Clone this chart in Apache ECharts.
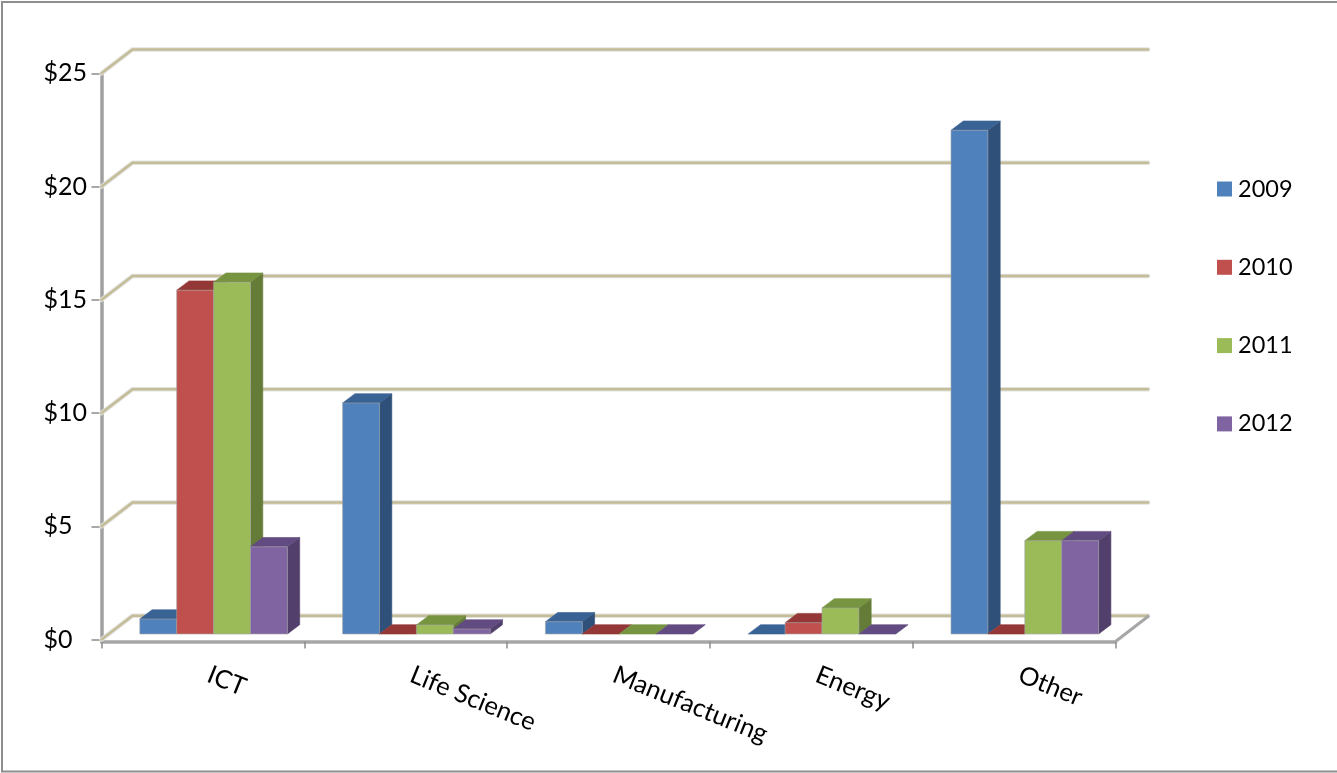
<!DOCTYPE html>
<html>
<head>
<meta charset="utf-8">
<style>html,body{margin:0;padding:0;background:#fff}#chart{width:1337px;height:773px}</style>
<script src="https://cdn.jsdelivr.net/npm/echarts@6/dist/echarts.min.js"></script>
</head>
<body>
<div id="chart"></div>
<script>
// Funding by sector, in millions of dollars
const categories = ['ICT', 'Life Science', 'Manufacturing', 'Energy', 'Other'];
const yTicks = [0, 5, 10, 15, 20, 25];
const years = ['2009', '2010', '2011', '2012'];
const values2009 = [0.66, 10.2, 0.54, 0, 22.24];
const values2010 = [15.18, 0, 0, 0.5, 0];
const values2011 = [15.53, 0.4, 0, 1.15, 4.12];
const values2012 = [3.85, 0.22, 0, 0, 4.12];

// front, top and side shades for each year's bars
const shades = [
  { front: '#4f81bd', top: '#3a6395', side: '#2f5079' },
  { front: '#c0504d', top: '#933836', side: '#7f2f2d' },
  { front: '#9bbb59', top: '#779440', side: '#647c38' },
  { front: '#8064a2', top: '#624b80', side: '#523f6b' }
];

// projection of the 3D box
const wallDX = 31, wallDY = -23.8;        // back wall relative to the axis plane
const barShiftX = 10.7, barShiftY = -5.5; // bar front faces relative to the axis plane
const depthX = 12.3, depthY = -9.3;       // extrusion of a bar
const barW = 36.9;

function barRenderer(yearIndex) {
  return function (params, api) {
    const cat = api.value(0), val = api.value(1);
    const c = api.coord([cat, val]);
    const z = api.coord([cat, 0]);
    const x0 = c[0] + barShiftX + (yearIndex - 2) * barW;
    const x1 = x0 + barW;
    const yt = c[1] + barShiftY, yb = z[1] + barShiftY;
    const s = shades[yearIndex];
    const children = [];
    const poly = (pts, fill, stroke) => ({
      type: 'polygon', shape: { points: pts },
      style: { fill: fill, stroke: stroke || fill, lineWidth: 0.6 }
    });
    if (val > 0) {
      children.push(poly([[x1, yt], [x1 + depthX, yt + depthY], [x1 + depthX, yb + depthY], [x1, yb]], s.side));
    }
    children.push(poly([[x0, yt], [x1, yt], [x1 + depthX, yt + depthY], [x0 + depthX, yt + depthY]], s.top));
    if (val > 0) {
      children.push({
        type: 'rect', shape: { x: x0, y: yt, width: barW, height: yb - yt },
        style: { fill: s.front, stroke: 'rgba(165,165,165,0.75)', lineWidth: 0.8 }
      });
    }
    return { type: 'group', children: children };
  };
}

function wallRenderer(params, api) {
  const v = api.value(0);
  const left = api.coord([0, v]);
  const plotLeft = params.coordSys.x, plotRight = plotLeft + params.coordSys.width;
  const y = left[1];
  const pts = [[plotLeft, y], [plotLeft + wallDX, y + wallDY], [plotRight + 32.5, y + wallDY]];
  const children = [
    { type: 'polyline', shape: { points: pts }, style: { fill: null, stroke: '#e2e2e0', lineWidth: 4.6, lineCap: 'round' } },
    { type: 'polyline', shape: { points: pts }, style: { fill: null, stroke: '#c4bd97', lineWidth: 2.6, lineCap: 'round' } }
  ];
  if (v === 0) {
    // right edge of the floor
    children.push({
      type: 'line',
      shape: { x1: plotRight, y1: y + 2, x2: plotRight + 33.5, y2: y + wallDY },
      style: { stroke: '#a6a6a6', lineWidth: 3 }
    });
  }
  return { type: 'group', children: children };
}

const font = 'Lato, Carlito, Calibri, sans-serif';
const yearData = [values2009, values2010, values2011, values2012];

const barSeries = years.map((name, i) => ({
  name: name,
  type: 'custom',
  clip: false,
  z: 5,
  itemStyle: { color: shades[i].front },
  renderItem: barRenderer(i),
  encode: { x: 0, y: 1 },
  data: categories.map((_, k) => [k, yearData[i][k]])
}));

const chart = echarts.init(document.getElementById('chart'), null, { renderer: 'canvas' });
chart.setOption({
  animation: false,
  backgroundColor: '#ffffff',
  grid: { left: 101.5, top: 73.3, width: 1014, height: 566.2 },
  xAxis: {
    type: 'category',
    data: categories,
    offset: 2,
    axisLine: { show: true, onZero: false, lineStyle: { color: '#a6a6a6', width: 3.5 } },
    axisTick: { show: true, length: 7, lineStyle: { color: '#8c8c8c', width: 1.5 } },
    axisLabel: {
      interval: 0, rotate: -22, margin: 30, padding: [0, 0, 0, 6],
      fontFamily: font, fontSize: 25.5, color: '#000'
    }
  },
  yAxis: {
    type: 'value',
    min: yTicks[0],
    max: yTicks[yTicks.length - 1],
    interval: 5,
    axisLine: { show: true, lineStyle: { color: '#a0a0a0', width: 3.5 } },
    axisTick: { show: true, length: 10, lineStyle: { color: '#8c8c8c', width: 1.5 } },
    splitLine: { show: false },
    axisLabel: {
      align: 'left', margin: 58, padding: [4, 0, 0, 0], fontFamily: font, fontSize: 25, color: '#000',
      formatter: v => '$' + v
    }
  },
  legend: {
    data: years.map(y => ({ name: y, icon: 'rect' })),
    orient: 'vertical',
    left: 1212,
    top: 170,
    itemWidth: 15,
    itemHeight: 15,
    itemGap: 50.3,
    textStyle: { fontFamily: font, fontSize: 23.5, color: '#000', padding: [0, 0, 0, 1], lineHeight: 28 },
    selectedMode: false
  },
  series: [
    {
      type: 'custom',
      name: 'walls',
      clip: false,
      z: 3,
      silent: true,
      renderItem: wallRenderer,
      encode: { y: 0 },
      data: yTicks.map(v => [v])
    }
  ].concat(barSeries),
  graphic: [
    { type: 'line', shape: { x1: 1, y1: 2, x2: 1337, y2: 2 }, style: { stroke: '#8e8e8e', lineWidth: 2 } },
    { type: 'line', shape: { x1: 2, y1: 1, x2: 2, y2: 772 }, style: { stroke: '#8e8e8e', lineWidth: 2 } },
    { type: 'line', shape: { x1: 1, y1: 771.5, x2: 1337, y2: 771.5 }, style: { stroke: '#8e8e8e', lineWidth: 2 } }
  ]
});
</script>
</body>
</html>
